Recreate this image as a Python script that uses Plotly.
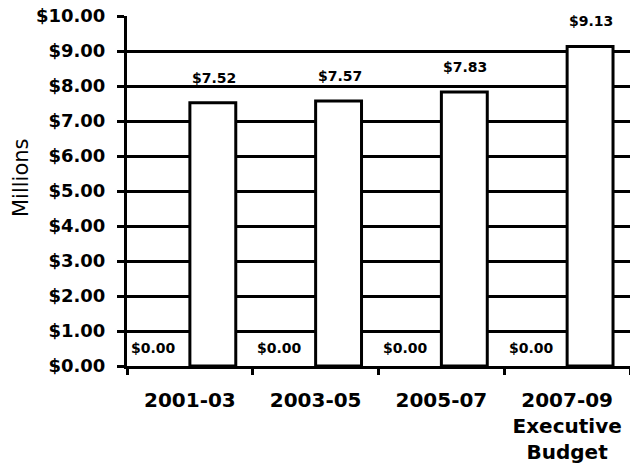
import plotly.graph_objects as go

# Biennium labels and funding (millions of dollars)
periods = ["2001-03", "2003-05", "2005-07", "2007-09"]
period_ticktext = ["2001-03", "2003-05", "2005-07", "2007-09<br>Executive<br>Budget"]
other_funds = [0.00, 0.00, 0.00, 0.00]
total_funds = [7.52, 7.57, 7.83, 9.13]
y_ticks = [0, 1, 2, 3, 4, 5, 6, 7, 8, 9, 10]

FONT = "DejaVu Sans"

fig = go.Figure()
fig.add_trace(go.Bar(
    x=periods, y=other_funds, hoverinfo="skip",
    marker=dict(color="white", line=dict(color="black", width=0)),
))
fig.add_trace(go.Bar(
    x=periods, y=total_funds,
    marker=dict(color="white", line=dict(color="black", width=3)),
))

annotations = []
for p, v in zip(periods, other_funds):
    annotations.append(dict(
        x=p, y=v, xref="x", yref="y", text=f"${v:.2f}", showarrow=False,
        xshift=-36, yshift=18, font=dict(family=FONT, size=14, color="black", weight="bold"),
    ))
for p, v in zip(periods, total_funds):
    annotations.append(dict(
        x=p, y=v, xref="x", yref="y", text=f"${v:.2f}", showarrow=False,
        xshift=24, yshift=25, font=dict(family=FONT, size=14, color="black", weight="bold"),
    ))
annotations.append(dict(
    x=0, y=0.5, xref="paper", yref="paper", text="Millions", showarrow=False,
    textangle=-90, xshift=-120, yshift=13, font=dict(family=FONT, size=21, color="black"),
))

fig.update_layout(
    width=630, height=474,
    margin=dict(l=127, r=0, t=16, b=108),
    barmode="group", bargap=0.27, bargroupgap=0,
    plot_bgcolor="white", paper_bgcolor="white",
    showlegend=False,
    annotations=annotations,
)
fig.update_yaxes(
    range=[0, 10], tickvals=y_ticks, tickformat="$.2f",
    showgrid=True, gridcolor="black", gridwidth=3,
    showline=True, linecolor="black", linewidth=3,
    ticks="outside", ticklen=7, tickwidth=3, tickcolor="black",
    zeroline=False, ticklabelstandoff=8,
    tickfont=dict(family=FONT, size=18, color="black", weight="bold"),
)
fig.update_xaxes(
    type="category", range=[-0.5, 3.5],
    tickvals=periods, ticktext=period_ticktext,
    showgrid=False, showline=True, linecolor="black", linewidth=3,
    ticks="outside", tickson="boundaries", ticklen=6, tickwidth=3, tickcolor="black",
    ticklabelstandoff=14,
    tickfont=dict(family=FONT, size=20, color="black", weight="bold"),
)

fig.write_html("out.html")
